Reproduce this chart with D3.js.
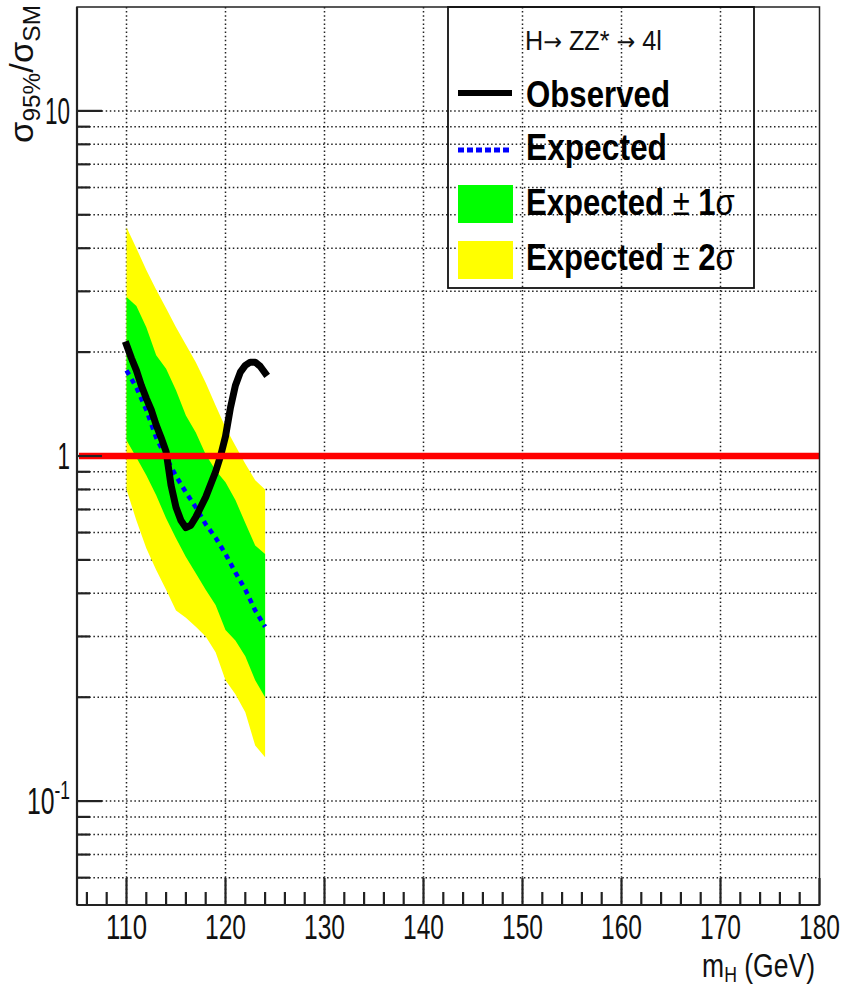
<!DOCTYPE html>
<html>
<head>
<meta charset="utf-8">
<script src="https://cdn.jsdelivr.net/npm/d3@7"></script>
<style>
html,body{margin:0;padding:0;background:#fff;}
svg{display:block;}
text{font-family:"Liberation Sans",Arial,Helvetica,sans-serif;}
</style>
</head>
<body>
<svg id="chart" width="844" height="987"></svg>
<script>
// ---------------- data ----------------
const bandMass   = [110,111,112,113,114,115,116,117,118,119,120,121,122,123,124];
const expected   = [1.77,1.58,1.36,1.13,0.99,0.875,0.785,0.71,0.634,0.58,0.52,0.46,0.41,0.357,0.32];
const plus1sig   = [2.89,2.72,2.36,1.96,1.79,1.55,1.31,1.17,1.01,0.91,0.84,0.745,0.64,0.55,0.52];
const minus1sig  = [1.11,0.99,0.88,0.77,0.66,0.578,0.51,0.457,0.41,0.37,0.313,0.292,0.263,0.224,0.20];
const plus2sig   = [4.60,4.00,3.46,3.03,2.68,2.36,2.10,1.87,1.63,1.40,1.21,1.07,0.95,0.85,0.80];
const minus2sig  = [0.80,0.65,0.54,0.467,0.41,0.357,0.34,0.32,0.30,0.27,0.224,0.204,0.181,0.145,0.134];

const obsMass    = [110,110.5,111,111.5,112,112.5,113,113.5,114,114.5,115,115.5,116,116.5,117,118,119,119.5,120,120.5,121,121.5,122,122.5,123,123.5,124];
const observed   = [2.10,1.92,1.77,1.60,1.47,1.36,1.23,1.13,1.03,0.823,0.71,0.65,0.62,0.63,0.665,0.76,0.90,1.0,1.14,1.38,1.60,1.75,1.83,1.87,1.87,1.82,1.74];

const smLine     = [1];
const xMajorTicks = [110,120,130,140,150,160,170,180];
const xMinorTicks = [106,108,112,114,116,118,122,124,126,128,132,134,136,138,142,144,146,148,152,154,156,158,162,164,166,168,172,174,176,178];
const yMajorTicks = [0.1,1,10];
const yMinorTicks = [0.06,0.07,0.08,0.09,0.2,0.3,0.4,0.5,0.6,0.7,0.8,0.9,2,3,4,5,6,7,8,9];
const yTickLabels = [["10","-1"],["1",null],["10",null]]; // base, superscript (same order as yMajorTicks)

const legendTitle = ["H","\u2192"," ZZ* ","\u2192"," 4l"];
const legendEntries = ["Observed","Expected","Expected \u00B1 1\u03C3","Expected \u00B1 2\u03C3"];

// ---------------- layout ----------------
const svg = d3.select("#chart");
const L = 77, R = 819.5, T = 7, B = 905;
const x = d3.scaleLinear().domain([105,180]).range([L,R]);
const y = d3.scaleLog().domain([0.05,20]).range([B,T]);

svg.append("rect").attr("width",844).attr("height",987).attr("fill","#fff");

function fitText(t, tx, ty, target, extra){
  const w = t.node().getBBox().width;
  const s = target ? target / w : 1;
  t.attr("transform", `translate(${tx},${ty})` + (extra||"") + ` scale(${s},1)`);
}

// ---------------- grid ----------------
const grid = svg.append("g").attr("stroke","#222").attr("stroke-width",1.5)
  .attr("stroke-dasharray","1.5,2.6").attr("fill","none");
yMajorTicks.concat(yMinorTicks).forEach(v=>{
  grid.append("line").attr("x1",L).attr("x2",R).attr("y1",y(v)).attr("y2",y(v));
});
xMajorTicks.filter(v=>v<180).forEach(v=>{
  grid.append("line").attr("x1",x(v)).attr("x2",x(v)).attr("y1",T).attr("y2",B);
});

// ---------------- bands ----------------
const idx = d3.range(bandMass.length);
const area = (lo,hi)=>d3.area().x(i=>x(bandMass[i])).y0(i=>y(lo[i])).y1(i=>y(hi[i]));
svg.append("path").datum(idx).attr("d",area(minus2sig,plus2sig)).attr("fill","#ffff00");
svg.append("path").datum(idx).attr("d",area(minus1sig,plus1sig)).attr("fill","#00ff00");

// expected
svg.append("path").datum(idx)
  .attr("d",d3.line().x(i=>x(bandMass[i])).y(i=>y(expected[i])))
  .attr("fill","none").attr("stroke","#0000ff").attr("stroke-width",4.5)
  .attr("stroke-dasharray","5,5");

// observed
svg.append("path").datum(d3.range(obsMass.length))
  .attr("d",d3.line().x(i=>x(obsMass[i])).y(i=>y(observed[i])))
  .attr("fill","none").attr("stroke","#000").attr("stroke-width",7)
  .attr("stroke-linejoin","round").attr("stroke-linecap","square");

// SM line
smLine.forEach(v=>{
  svg.append("line").attr("x1",L+2).attr("x2",R).attr("y1",y(v)).attr("y2",y(v))
    .attr("stroke","#ff0000").attr("stroke-width",6.5);
});

// ---------------- frame & axes ----------------
svg.append("rect").attr("x",L).attr("y",T).attr("width",R-L).attr("height",B-T)
  .attr("fill","none").attr("stroke","#222").attr("stroke-width",1.5);
svg.append("line").attr("x1",L).attr("x2",L).attr("y1",T).attr("y2",B).attr("stroke","#222").attr("stroke-width",2.2);
svg.append("line").attr("x1",L).attr("x2",R).attr("y1",B).attr("y2",B).attr("stroke","#222").attr("stroke-width",2.2);

const ticks = svg.append("g").attr("stroke","#222").attr("stroke-width",2.2);
yMajorTicks.forEach(v=>ticks.append("line").attr("x1",L).attr("x2",L+25).attr("y1",y(v)).attr("y2",y(v)));
yMinorTicks.forEach(v=>ticks.append("line").attr("x1",L).attr("x2",L+13).attr("y1",y(v)).attr("y2",y(v)));
xMajorTicks.forEach(v=>ticks.append("line").attr("x1",x(v)).attr("x2",x(v)).attr("y1",B).attr("y2",B-27));
xMinorTicks.forEach(v=>ticks.append("line").attr("x1",x(v)).attr("x2",x(v)).attr("y1",B).attr("y2",B-13));

// x tick labels
xMajorTicks.forEach(v=>{
  const t = svg.append("text").attr("font-size",36).attr("text-anchor","middle").attr("fill","#111").text(v);
  fitText(t, x(v), 939, 41);
});
// y tick labels
yMajorTicks.forEach((v,i)=>{
  const [base,sup] = yTickLabels[i];
  const t = svg.append("text").attr("font-size",37).attr("text-anchor","end").attr("fill","#111");
  t.append("tspan").text(base);
  if(sup){ t.append("tspan").attr("font-size",26).attr("dy",-15).text(sup); }
  fitText(t, 70, y(v)+13, sup ? 43 : (base.length*12.5));
});

// axis titles
const xt = svg.append("text").attr("font-size",33).attr("text-anchor","end").attr("fill","#111");
xt.append("tspan").text("m");
xt.append("tspan").attr("font-size",22).attr("dy",5).text("H");
xt.append("tspan").attr("dy",-5).text(" (GeV)");
fitText(xt, 815, 977, 113);

const yt = svg.append("text").attr("font-size",34).attr("text-anchor","end").attr("fill","#111");
yt.append("tspan").text("\u03C3");
yt.append("tspan").attr("font-size",24).attr("dy",7).text("95%");
yt.append("tspan").attr("dy",-7).text("/\u03C3");
yt.append("tspan").attr("font-size",24).attr("dy",7).text("SM");
fitText(yt, 33, 5, 138, " rotate(-90)");

// ---------------- legend ----------------
const lg = svg.append("g");
lg.append("rect").attr("x",448).attr("y",T).attr("width",754-448).attr("height",288-T)
  .attr("fill","none").attr("stroke","#111").attr("stroke-width",1.8);

const tt = lg.append("text").attr("font-size",27).attr("fill","#111");
legendTitle.forEach(s=>{
  const sp = tt.append("tspan").text(s);
  if(s==="\u2192") sp.attr("font-family","DejaVu Sans").attr("font-size",24);
});
fitText(tt, 525, 50, 137);

lg.append("line").attr("x1",458).attr("x2",512).attr("y1",93).attr("y2",93)
  .attr("stroke","#000").attr("stroke-width",6);
lg.append("line").attr("x1",458).attr("x2",512).attr("y1",150).attr("y2",150)
  .attr("stroke","#0000ff").attr("stroke-width",5).attr("stroke-dasharray","6,3");
lg.append("rect").attr("x",458).attr("y",185).attr("width",55).attr("height",38).attr("fill","#00ff00");
lg.append("rect").attr("x",458).attr("y",241).attr("width",55).attr("height",38).attr("fill","#ffff00");

const baselines = [107,160,215,270];
const widths = [144,141,209,209];
legendEntries.forEach((s,i)=>{
  const t = lg.append("text").attr("font-size",37).attr("fill","#000");
  const m = s.match(/^(Expected) (\u00B1) (\d)(\u03C3)$/);
  if(m){
    t.append("tspan").attr("font-weight","bold").text(m[1]);
    t.append("tspan").text(" " + m[2] + " ");
    t.append("tspan").attr("font-weight","bold").text(m[3]);
    t.append("tspan").text(m[4]);
  } else {
    t.attr("font-weight","bold").text(s);
  }
  fitText(t, 526, baselines[i], widths[i]);
});
</script>
</body>
</html>
